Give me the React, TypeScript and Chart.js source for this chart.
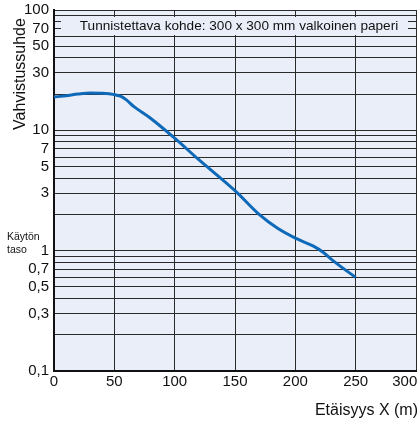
import React, { useEffect, useRef } from "react";
import { Chart, registerables } from "chart.js";

Chart.register(...registerables);

// Data
const distances = [0, 10, 20, 30, 40, 50, 55, 60, 66, 80, 100, 120, 150, 170, 185, 200, 215, 223, 232, 250];
const ratios = [18.9, 19.4, 20.0, 20.4, 20.3, 19.8, 19.2, 17.9, 15.8, 12.6, 8.6, 5.7, 3.15, 2.0, 1.54, 1.27, 1.09, 0.97, 0.815, 0.6];

const xTicks = [0, 50, 100, 150, 200, 250, 300];
const yLabelled = [0.1, 0.3, 0.5, 0.7, 1, 3, 5, 7, 10, 30, 50, 70, 100];
const yGridDecades = [0.1, 1, 10];

const yTitle = "Vahvistussuhde";
const xTitle = "Etäisyys X (m)";
const noteText = "Tunnistettava kohde: 300 x 300 mm valkoinen paperi";
const levelLabel = ["Käytön", "taso"];

const FONT = '"Liberation Sans", Arial, Helvetica, sans-serif';
const PLOT_BG = "#e9eef8";
const LINE_COLOR = "#0f69b9";
const GRID_COLOR = "#2a2a2a";

function buildYGrid(): number[] {
  const vals: number[] = [];
  for (const d of yGridDecades) {
    for (let m = 1; m <= 9; m++) vals.push(Number((m * d).toPrecision(3)));
  }
  vals.push(100);
  return vals;
}

const decorPlugin = {
  id: "decor",
  beforeDraw(chart: any) {
    const { ctx, chartArea: a } = chart;
    ctx.save();
    ctx.fillStyle = "#ffffff";
    ctx.fillRect(0, 0, chart.width, chart.height);
    ctx.fillStyle = PLOT_BG;
    ctx.fillRect(a.left, a.top, a.right - a.left, a.bottom - a.top);
    ctx.restore();
  },
  beforeDatasetsDraw(chart: any) {
    const { ctx, chartArea: a } = chart;
    ctx.save();
    ctx.fillStyle = PLOT_BG;
    ctx.fillRect(a.left + 7, a.top + 7, a.right - a.left - 15, 18);
    ctx.fillStyle = "#111";
    ctx.font = `13.6px ${FONT}`;
    ctx.textAlign = "center";
    ctx.textBaseline = "alphabetic";
    ctx.fillText(noteText, (a.left + a.right) / 2 + 4, a.top + 20);
    ctx.restore();
  },
  afterDraw(chart: any) {
    const { ctx } = chart;
    ctx.save();
    ctx.fillStyle = "#111";
    // y title
    ctx.save();
    ctx.translate(25, 74);
    ctx.rotate(-Math.PI / 2);
    ctx.font = `16px ${FONT}`;
    ctx.textAlign = "center";
    ctx.textBaseline = "alphabetic";
    ctx.fillText(yTitle, 0, 0);
    ctx.restore();
    // x title
    ctx.font = `16px ${FONT}`;
    ctx.textAlign = "right";
    ctx.textBaseline = "alphabetic";
    ctx.fillText(xTitle, 418, 415);
    // level label
    ctx.font = `10.5px "Liberation Sans Narrow", ${FONT}`;
    ctx.textAlign = "left";
    ctx.fillText(levelLabel[0], 7, 240);
    ctx.fillText(levelLabel[1], 7, 253);
    ctx.restore();
  },
};

export default function App() {
  const ref = useRef<HTMLCanvasElement | null>(null);

  useEffect(() => {
    if (!ref.current) return;
    const yGrid = buildYGrid();
    const chart = new Chart(ref.current, {
      type: "line",
      data: {
        datasets: [
          {
            data: distances.map((x, i) => ({ x, y: ratios[i] })),
            borderColor: LINE_COLOR,
            borderWidth: 3,
            pointRadius: 0,
            cubicInterpolationMode: "monotone",
            borderCapStyle: "butt",
            fill: false,
          },
        ],
      },
      options: {
        responsive: false,
        animation: false,
        events: [],
        layout: { padding: { top: 10, right: 1, left: 0, bottom: 0 } },
        plugins: {
          legend: { display: false },
          tooltip: { enabled: false },
          title: { display: false },
        },
        scales: {
          x: {
            type: "linear",
            min: 0,
            max: 300,
            afterBuildTicks: (scale: any) => {
              scale.ticks = xTicks.map((v) => ({ value: v }));
            },
            afterFit: (scale: any) => {
              scale.height = 51;
              scale.paddingLeft = 0;
              scale.paddingRight = 0;
            },
            ticks: {
              autoSkip: false,
              maxRotation: 0,
              padding: 2,
              color: "#111",
              font: { family: FONT, size: 15 },
              callback: (v: any) => (v === 300 ? "300\u2002\u2002\u2002" : String(v)),
            },
            grid: { color: GRID_COLOR, lineWidth: 1, drawTicks: false },
            border: { color: "#111", width: 2 },
          },
          y: {
            type: "logarithmic",
            min: 0.1,
            max: 100,
            afterBuildTicks: (scale: any) => {
              scale.ticks = yGrid.map((v) => ({ value: v }));
            },
            afterFit: (scale: any) => {
              scale.width = 54;
              scale.paddingTop = 0;
              scale.paddingBottom = 0;
            },
            ticks: {
              autoSkip: false,
              padding: 5,
              color: "#111",
              font: { family: FONT, size: 15 },
              callback: (v: any) => {
                const n = Number(v);
                const hit = yLabelled.find((l) => Math.abs(l - n) < 1e-9);
                return hit !== undefined ? String(hit).replace(".", ",") : "";
              },
            },
            grid: { color: GRID_COLOR, lineWidth: 1, drawTicks: false },
            border: { color: "#111", width: 2 },
          },
        },
      },
      plugins: [decorPlugin],
    } as any);
    return () => chart.destroy();
  }, []);

  return (
    <div style={{ position: "absolute", left: 0, top: 0, width: 417, height: 422 }}>
      <canvas ref={ref} width={417} height={422} style={{ display: "block" }} />
    </div>
  );
}
